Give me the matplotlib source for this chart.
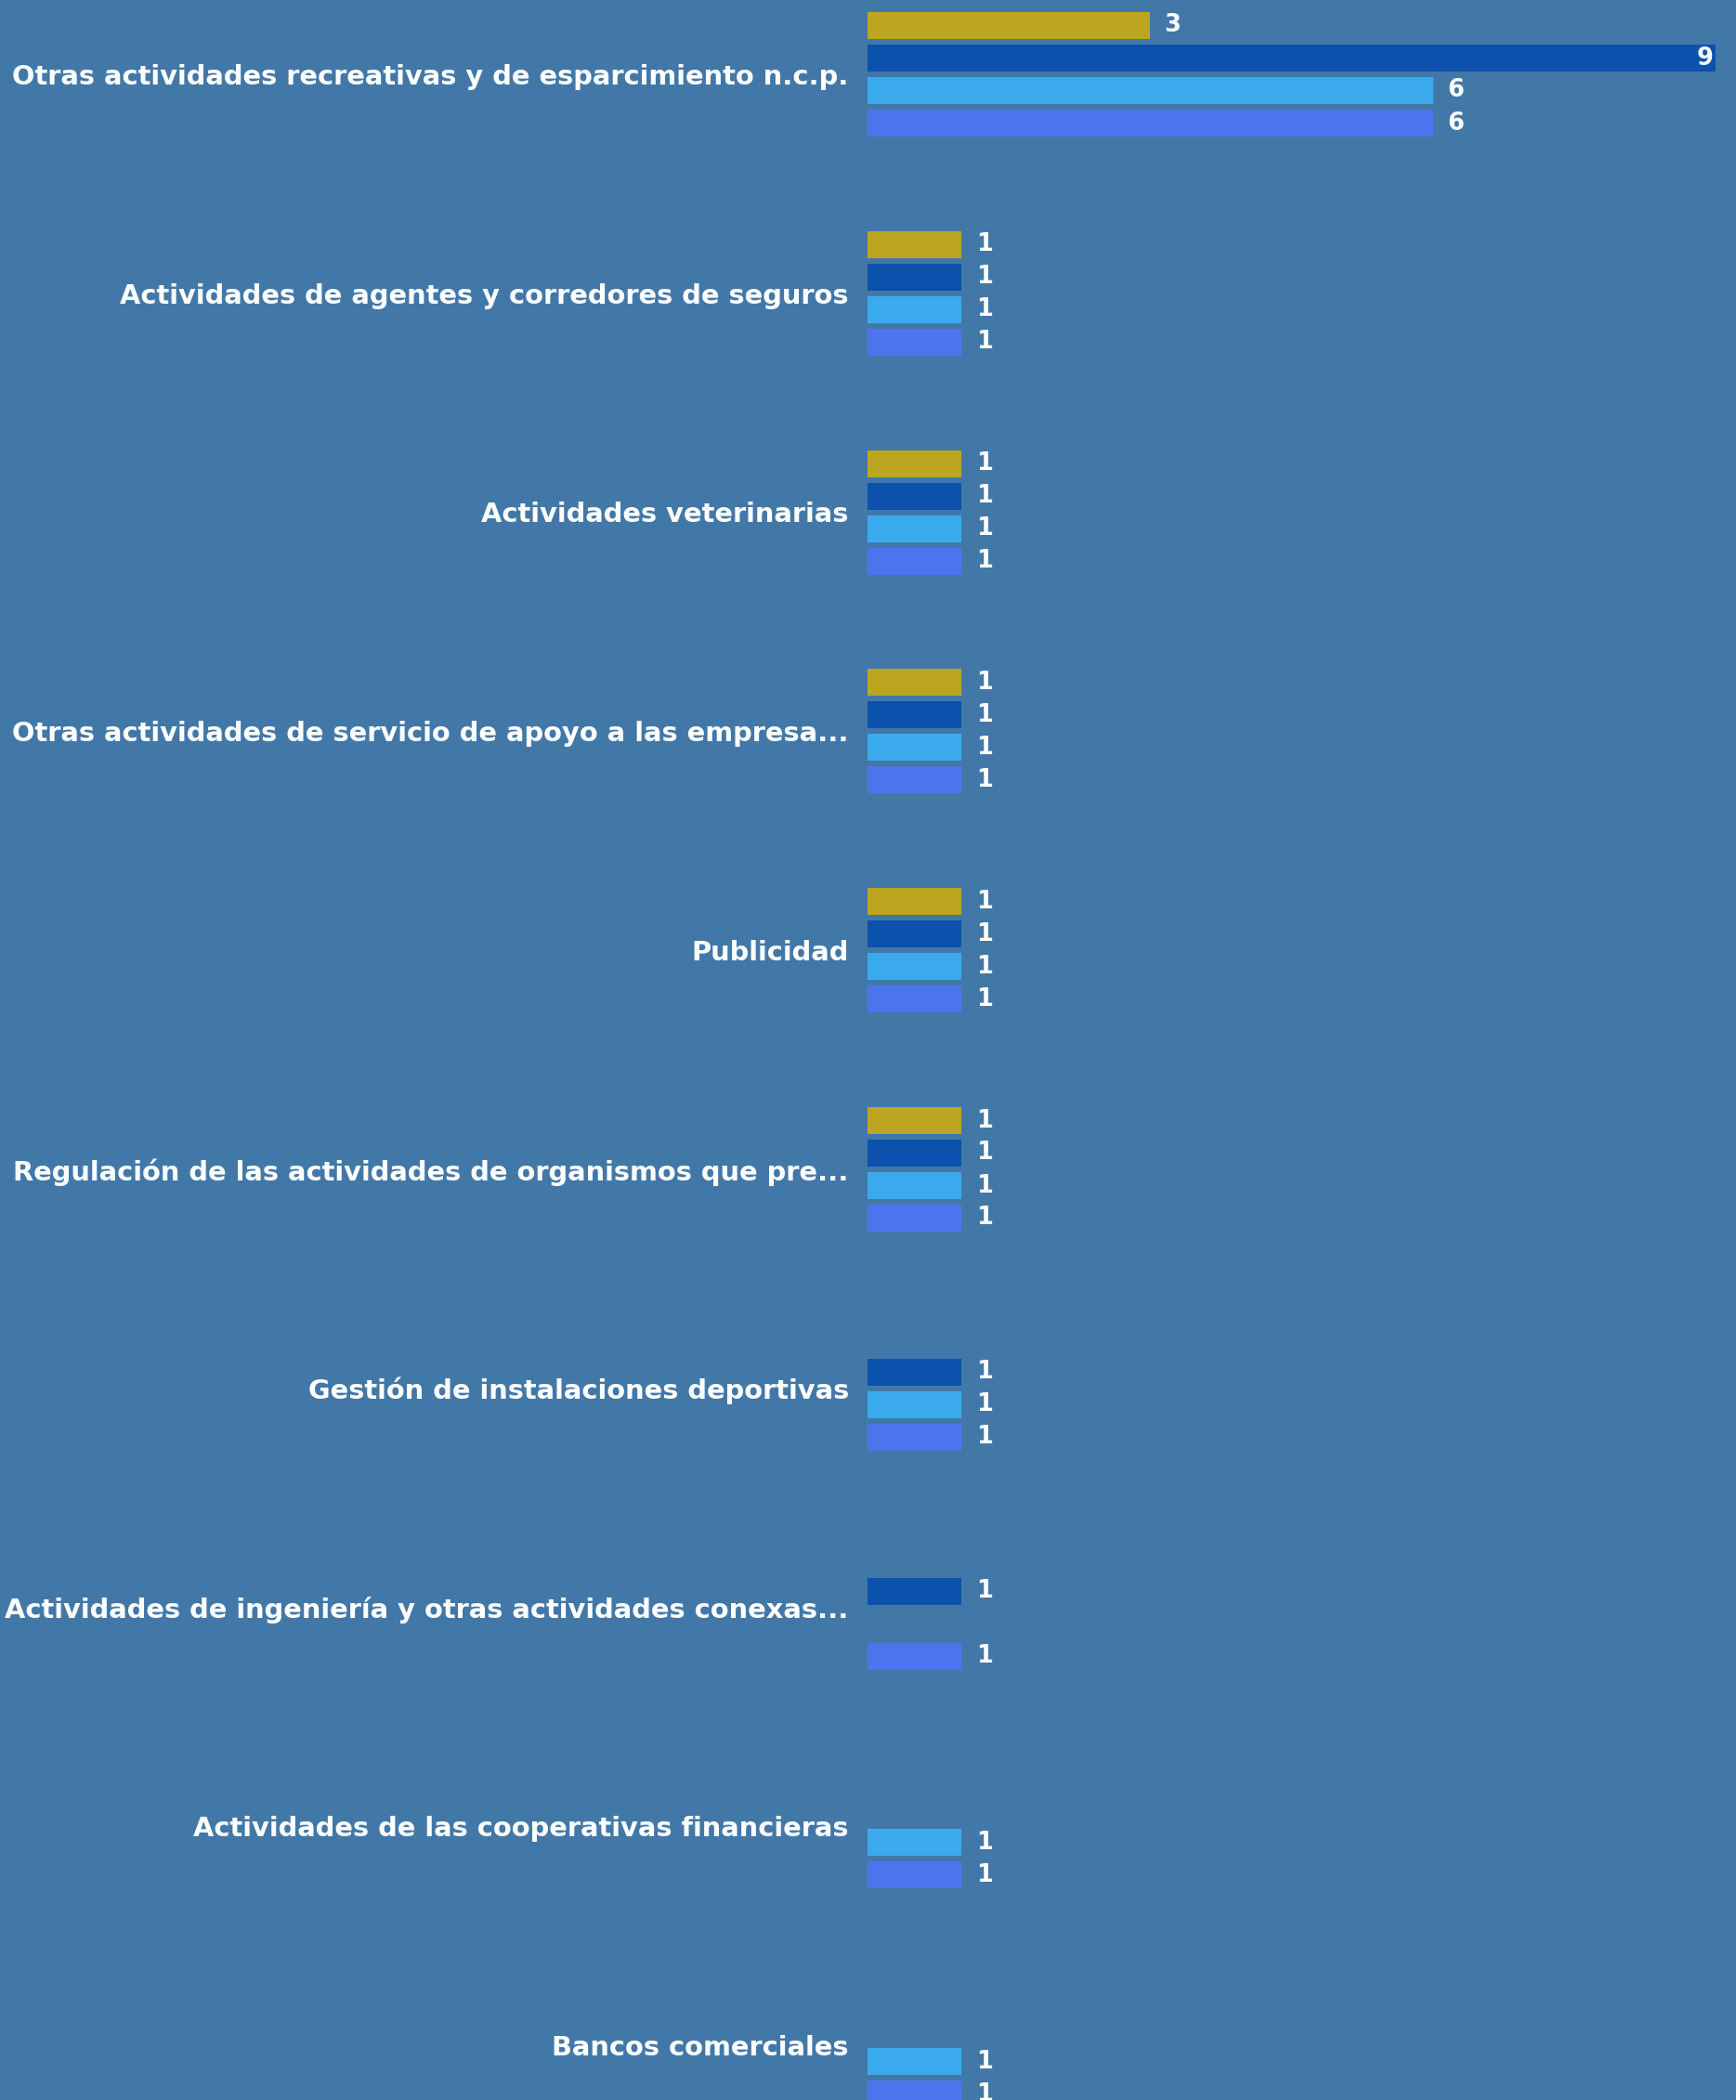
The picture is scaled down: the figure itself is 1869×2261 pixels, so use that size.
import numpy as np
import matplotlib.pyplot as plt

# categories and the four series (nan = no bar)
categories = [
    'Otras actividades recreativas y de esparcimiento n.c.p.',
    'Actividades de agentes y corredores de seguros',
    'Actividades veterinarias',
    'Otras actividades de servicio de apoyo a las empresa...',
    'Publicidad',
    'Regulación de las actividades de organismos que pre...',
    'Gestión de instalaciones deportivas',
    'Actividades de ingeniería y otras actividades conexas...',
    'Actividades de las cooperativas financieras',
    'Bancos comerciales',
]
nan = np.nan
serie_1 = [3, 1, 1, 1, 1, 1, nan, nan, nan, nan]
serie_2 = [9, 1, 1, 1, 1, 1, 1, 1, nan, nan]
serie_3 = [6, 1, 1, 1, 1, 1, 1, nan, 1, 1]
serie_4 = [6, 1, 1, 1, 1, 1, 1, 1, 1, 1]

series = [serie_1, serie_2, serie_3, serie_4]
colors = ['#BCA620', '#0C52AC', '#3BAAED', '#4E74ED']
bg = '#4278A8'

fig = plt.figure(figsize=(18.69, 22.61), dpi=100, facecolor=bg)
# axes: x from bar origin (934 px) to value 9 (1847 px)
ax = fig.add_axes([934 / 1869, 0, (1847 - 934) / 1869, 1])
ax.set_facecolor(bg)

pitch_px = 235.8
slot = 35 / pitch_px
height = 29 / pitch_px
y = np.arange(len(categories))

for k, (vals, col) in enumerate(zip(series, colors)):
    pos = y + (k - 1.5) * slot
    for yy, v in zip(pos, vals):
        if np.isnan(v):
            continue
        ax.barh(yy, v, height=height, color=col, linewidth=0)
        if v >= 9:
            ax.annotate(f'{v:g}', (v, yy), xytext=(-2, 0), textcoords='offset points',
                        ha='right', va='center', color='white', fontsize=18.5,
                        fontweight='bold', annotation_clip=False)
        else:
            ax.annotate(f'{v:g}', (v, yy), xytext=(11, 0), textcoords='offset points',
                        ha='left', va='center', color='white', fontsize=18.5,
                        fontweight='bold', annotation_clip=False)

for yy, name in zip(y, categories):
    ax.annotate(name, (0, yy), xytext=(-14.5, -2), textcoords='offset points',
                ha='right', va='center', color='white', fontsize=20.8,
                fontweight='bold', annotation_clip=False)

ax.set_xlim(0, 9)
ax.set_ylim((2261 - 80) / pitch_px, -80 / pitch_px)
ax.axis('off')

plt.savefig('out.png', dpi=100, facecolor=bg)
